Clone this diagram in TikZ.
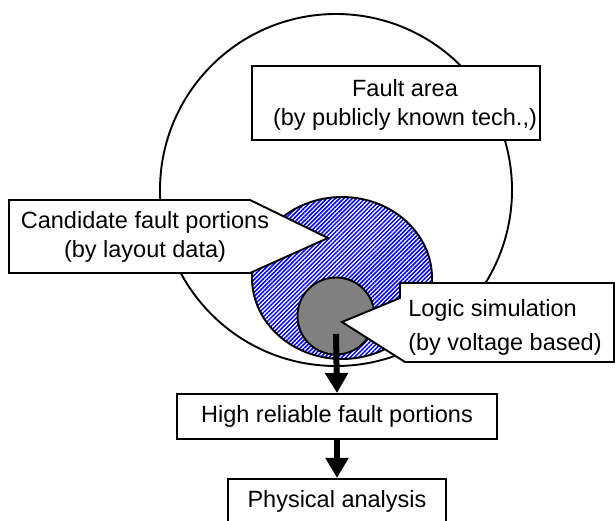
\documentclass[tikz,border=0pt]{standalone}
\usepackage{fontspec}
\setmainfont{Liberation Sans}
\usetikzlibrary{arrows.meta,patterns.meta,positioning}

\begin{document}
\begin{tikzpicture}[x=1pt,y=-1pt,line width=1.9pt,
                    every node/.style={font=\fontsize{23.5}{29}\selectfont},
                    box/.style={draw,fill=white,minimum height=45pt},
                    callout/.style={draw,fill=white,line join=miter},
                    hatch/.style={pattern={Lines[angle=45,distance=3pt,line width=1.5pt]},
                                  pattern color=blue},
                    fat/.style={-{Triangle[width=22pt,length=20pt]},line width=6pt}]

\useasboundingbox (0,0) rectangle (615,521);

% fault area
\filldraw[fill=white] (336,190) circle [radius=176pt];
\filldraw[callout] (252,66) rectangle (540,140);
\node[align=center] (area) at (405,105) {Fault area\\(by publicly known tech.,)};

% candidate portions
\filldraw[hatch,draw=black] (342,278) ellipse [x radius=90pt,y radius=81pt];
\node[circle,draw,fill=gray,minimum size=77pt] (logic) at (336,316) {};

\filldraw[callout] (9,200) -- (250,200) -- (328,238) -- (250,273) -- (9,273) -- cycle;
\node[align=center] (cand) at (145,237) {Candidate fault portions\\(by layout data)};

\filldraw[callout] (400,283) -- (614,283) -- (614,362) -- (405,362)
                   -- (342,322) -- (400,298) -- cycle;
\node[align=left,anchor=west] (sim) at (404,327) {Logic simulation\\[5pt](by voltage based)};

% results
\node[box,minimum width=320pt] (high) at (337,416.5) {High reliable fault portions};
\node[box,minimum width=218pt,below=38pt of high] (phys) {Physical analysis};

\draw[fat] ([yshift=-18pt]logic.center) -- (high.north);
\draw[fat] (high.south) -- (phys.north);

\end{tikzpicture}
\end{document}
